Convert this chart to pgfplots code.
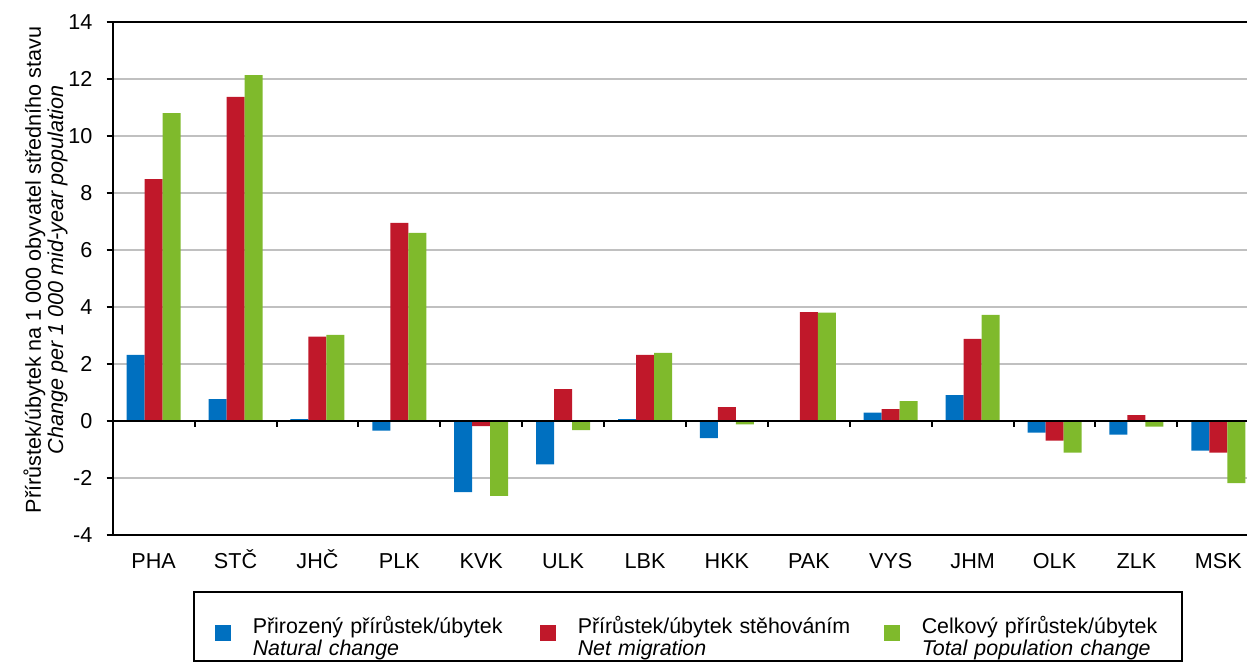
\documentclass[border=0pt]{standalone}
\usepackage{fontspec}
\setmainfont{Liberation Sans}
\usepackage{pgfplots}
\usepackage{pgfplotstable}
\pgfplotsset{compat=1.18}
\definecolor{NatBlue}{HTML}{0070C0}
\definecolor{MigRed}{HTML}{C0182A}
\definecolor{TotGreen}{HTML}{7FBA2C}
\definecolor{GridGray}{HTML}{C0C0C0}

% kraje: prirozeny, stehovani, celkovy (na 1 000 obyv.)
\pgfplotstableread{
x  nat   mig    tot
0  2.32  8.49  10.80
1  0.77 11.37  12.14
2  0.07  2.96   3.02
3 -0.34  6.95   6.60
4 -2.50 -0.18  -2.63
5 -1.52  1.12  -0.32
6  0.07  2.32   2.39
7 -0.60  0.49  -0.12
8  0.01  3.82   3.80
9  0.29  0.42   0.70
10 0.91  2.88   3.72
11 -0.41 -0.69 -1.11
12 -0.48  0.21 -0.20
13 -1.04 -1.11 -2.18
}\kraje

\begin{document}
\begin{tikzpicture}[font=\fontsize{10.8}{12}\selectfont]
\useasboundingbox (0,0) rectangle (623.5pt,334pt);
\clip (0,0) rectangle (623.5pt,334pt);
\begin{axis}[
  at={(56.35pt,66.5pt)},anchor=south west,scale only axis,
  width=567.15pt,height=256.5pt,
  xmin=-0.5,xmax=13.35,ymin=-4,ymax=14,
  axis x line*=box,axis y line*=left,
  axis line style={line width=1pt,black},
  ybar=0pt,bar width=9pt,
  xtick={0,...,13},
  xticklabels={PHA,STČ,JHČ,PLK,KVK,ULK,LBK,HKK,PAK,VYS,JHM,OLK,ZLK,MSK},
  xtick style={draw=none},
  ytick={-4,-2,...,14},yticklabels={-4,-2,0,2,4,6,8,10,12,14},
  ytick pos=left,tick align=outside,major tick length=3pt,
  ytick style={line width=1pt,black},
  ymajorgrids,grid style={GridGray,line width=1pt},
  xticklabel style={text height=9pt,text depth=0pt,yshift=-1pt},
  yticklabel style={xshift=-3.6pt},
  clip=false,
  legend cell align=left,
  legend columns=3,
  legend style={at={(axis description cs:0.0708,-0.1092)},anchor=north west,
    draw=black,line width=0.75pt,inner xsep=0pt,inner ysep=10pt,
    column sep=0pt,row sep=0pt,nodes={inner sep=2pt},
    font=\fontsize{10.7}{11}\selectfont},
]
\addplot[fill=NatBlue,draw=none,
  legend image code/.code={\path[draw=none,fill=none] (0pt,0pt) -- (27.5pt,0pt);
    \fill[NatBlue,draw=none] (10.5pt,-7.5pt) rectangle (18.5pt,0.5pt);}]
  table[x=x,y=nat]{\kraje};
\addlegendentry[text width=131pt]{Přirozený přírůstek/úbytek\\\textit{Natural change}}
\addplot[fill=MigRed,draw=none,
  legend image code/.code={\path[draw=none,fill=none] (0pt,0pt) -- (27.5pt,0pt);
    \fill[MigRed,draw=none] (10.5pt,-7.5pt) rectangle (18.5pt,0.5pt);}]
  table[x=x,y=mig]{\kraje};
\addlegendentry[text width=140.5pt]{Přírůstek/úbytek stěhováním\\\textit{Net migration}}
\addplot[fill=TotGreen,draw=none,
  legend image code/.code={\path[draw=none,fill=none] (0pt,0pt) -- (27.5pt,0pt);
    \fill[TotGreen,draw=none] (10.5pt,-7.5pt) rectangle (18.5pt,0.5pt);}]
  table[x=x,y=tot]{\kraje};
\addlegendentry[text width=128pt]{Celkový přírůstek/úbytek\\\textit{Total population change}}
\draw[black,line width=1pt] (axis cs:-0.5,0) -- (axis cs:13.35,0);
\pgfplotsinvokeforeach{0.5,1.5,...,12.5}{
  \draw[black,line width=1pt] (axis cs:#1,0) -- ++(0pt,-3pt);}
\end{axis}
\node[rotate=90,align=center,font=\fontsize{10.8}{9.9}\selectfont] at (22.8pt,199pt)
  {Přírůstek/úbytek na 1~000 obyvatel středního stavu\\\textit{Change per 1~000 mid-year population}};
\end{tikzpicture}
\end{document}
